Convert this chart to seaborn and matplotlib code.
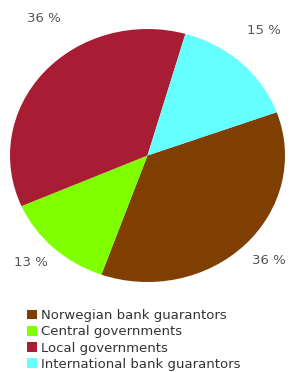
import matplotlib
matplotlib.use("Agg")
import matplotlib.pyplot as plt
import seaborn as sns
from matplotlib.patches import Patch

categories = ["Norwegian bank guarantors", "Central governments",
              "Local governments", "International bank guarantors"]
values = [36, 13, 36, 15]
labels = ["36 %", "13 %", "36 %", "15 %"]
colors = ["#7F3F00", "#80FF00", "#A91D34", "#66FFFF"]

sns.set_theme(style="white")
plt.rcParams['font.family'] = ['DejaVu Sans']

W, H = 291, 372
fig = plt.figure(figsize=(W / 100, H / 100), dpi=100)
ax = fig.add_axes([10 / W, (H - 282) / H, 275 / W, 253 / H])
wedges, _ = ax.pie(values, colors=colors, startangle=20, counterclock=False,
                   wedgeprops=dict(linewidth=0, antialiased=True))
ax.set_xlim(-1, 1)
ax.set_ylim(-1, 1)
ax.set_aspect('auto')
ax.axis('off')

# label positions in figure pixels (layout)
label_pos = [(269, 261), (31, 262), (44, 19), (264, 31)]
for lab, (px, py) in zip(labels, label_pos):
    fig.text(px / W, 1 - py / H, lab, ha='center', va='center',
             fontsize=9.5, color='#555555')

handles = [Patch(facecolor=c, edgecolor='none') for c in colors]
leg = fig.legend(handles, categories, loc='upper left',
                 bbox_to_anchor=(27 / W, 1 - 309 / H), frameon=False,
                 fontsize=9.5, handlelength=0.75, handleheight=0.75,
                 handletextpad=0.3, labelspacing=0.25, borderpad=0,
                 borderaxespad=0)
for t in leg.get_texts():
    t.set_color('#333333')

fig.savefig("out.png", dpi=100)
